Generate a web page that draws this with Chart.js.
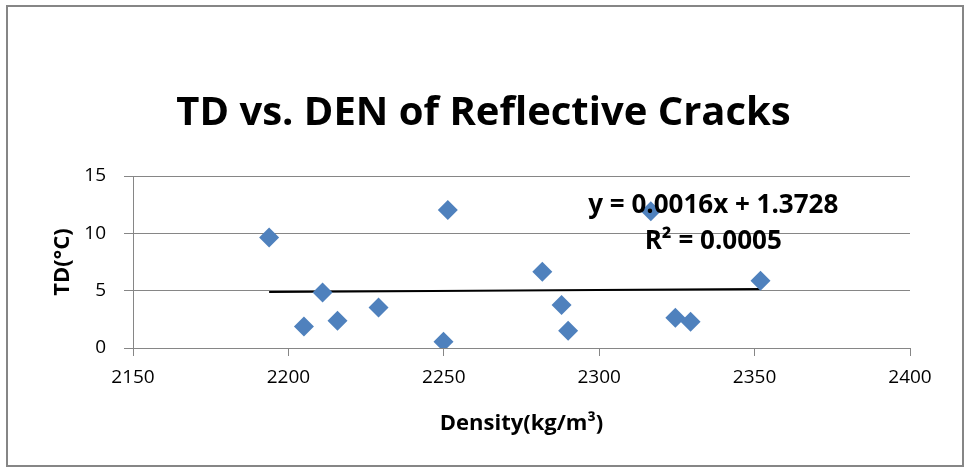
<!DOCTYPE html>
<html>
<head>
<meta charset="utf-8">
<title>TD vs. DEN of Reflective Cracks</title>
<script src="https://cdn.jsdelivr.net/npm/chart.js@4/dist/chart.umd.min.js"></script>
<style>
    html, body { margin: 0; padding: 0; background: #fff; }
    #chart { display: block; }
</style>
</head>
<body>
<canvas id="chart" width="967" height="472"></canvas>
<script>
// Density (kg/m3) and temperature difference (C) per reflective crack
const density = [2193.8, 2205.0, 2211.0, 2215.8, 2229.0, 2249.9, 2251.3,
                 2281.7, 2287.9, 2290.0, 2316.6, 2324.5, 2329.4, 2351.9];
const tempDiff = [9.64, 1.88, 4.83, 2.37, 3.53, 0.55, 12.04,
                  6.66, 3.74, 1.50, 11.93, 2.63, 2.28, 5.87];

// Linear trend fitted to the points
const slope = 0.0016;
const intercept = 1.3728;
const rSquared = '0.0005';

const xTicks = [2150, 2200, 2250, 2300, 2350, 2400];
const yTicks = [0, 5, 10, 15];

const GRID = '#868686';
const FONT = 'Open Sans';

const points = density.map((d, i) => ({ x: d, y: tempDiff[i] }));
const xMin = Math.min(...density);
const xMax = Math.max(...density);
const trend = [
    { x: xMin, y: slope * xMin + intercept },
    { x: xMax, y: slope * xMax + intercept }
];

// Outer frame around the whole chart
const framePlugin = {
    id: 'frame',
    beforeDraw(chart) {
        const ctx = chart.ctx;
        ctx.save();
        ctx.strokeStyle = GRID;
        ctx.lineWidth = 2;
        ctx.strokeRect(7, 6, 956, 460);
        ctx.restore();
    }
};

// Trendline equation and R² written over the plot
const equationPlugin = {
    id: 'equation',
    afterDatasetsDraw(chart) {
        const { ctx, scales: { x, y } } = chart;
        const cx = x.getPixelForValue(2336.7);
        ctx.save();
        ctx.fillStyle = '#000';
        ctx.font = `bold 26px "${FONT}"`;
        ctx.textAlign = 'center';
        ctx.textBaseline = 'alphabetic';
        ctx.fillText(`y = ${slope.toFixed(4)}x + ${intercept.toFixed(4)}`, cx, y.getPixelForValue(11.75));
        ctx.fillText(`R² = ${rSquared}`, cx, y.getPixelForValue(8.65));
        ctx.restore();
    }
};

const plainTick = v => String(v);

new Chart(document.getElementById('chart').getContext('2d'), {
    type: 'scatter',
    data: {
        datasets: [{
            label: 'TD',
            data: points,
            pointStyle: 'rectRot',
            pointRadius: 10,
            pointHoverRadius: 10,
            backgroundColor: '#4F81BD',
            borderColor: '#4F81BD',
            borderWidth: 0,
            order: 1
        }, {
            type: 'line',
            label: 'Linear (TD)',
            data: trend,
            borderColor: '#000',
            borderWidth: 2,
            pointRadius: 0,
            fill: false,
            order: 2
        }]
    },
    options: {
        responsive: false,
        animation: false,
        layout: { padding: 0 },
        plugins: {
            legend: { display: false },
            tooltip: { enabled: false },
            title: {
                display: true,
                text: 'TD vs. DEN of Reflective Cracks',
                color: '#000',
                font: { family: FONT, size: 40, weight: 'bold' },
                padding: { top: 90, bottom: 38 }
            }
        },
        scales: {
            x: {
                type: 'linear',
                min: xTicks[0],
                max: xTicks[xTicks.length - 1],
                afterBuildTicks: axis => { axis.ticks = xTicks.map(v => ({ value: v })); },
                afterFit: axis => { axis.height = 124; },
                grid: { drawOnChartArea: false, drawTicks: true, tickLength: 8, color: GRID },
                border: { display: true, color: GRID, width: 1 },
                ticks: { color: '#000', padding: 10, font: { family: FONT, size: 19 }, maxRotation: 0, callback: plainTick },
                title: {
                    display: true,
                    text: 'Density(kg/m³)',
                    color: '#000',
                    font: { family: FONT, size: 22, weight: 'bold' },
                    padding: { top: 4, bottom: 35 }
                }
            },
            y: {
                type: 'linear',
                min: yTicks[0],
                max: yTicks[yTicks.length - 1],
                afterBuildTicks: axis => { axis.ticks = yTicks.map(v => ({ value: v })); },
                afterFit: axis => { axis.width = 133; },
                grid: { drawTicks: true, tickLength: 9, color: GRID },
                border: { display: true, color: GRID, width: 1 },
                ticks: { color: '#000', padding: 18, font: { family: FONT, size: 19 }, callback: plainTick },
                title: {
                    display: true,
                    text: 'TD(°C)',
                    color: '#000',
                    font: { family: FONT, size: 22, weight: 'bold' },
                    padding: { top: 50 }
                }
            },
            // empty right-hand margin so the plot stops short of the frame
            margin: {
                type: 'linear',
                position: 'right',
                afterFit: axis => { axis.width = 57; },
                grid: { display: false },
                border: { display: false },
                ticks: { display: false }
            }
        }
    },
    plugins: [framePlugin, equationPlugin]
});
</script>
</body>
</html>
